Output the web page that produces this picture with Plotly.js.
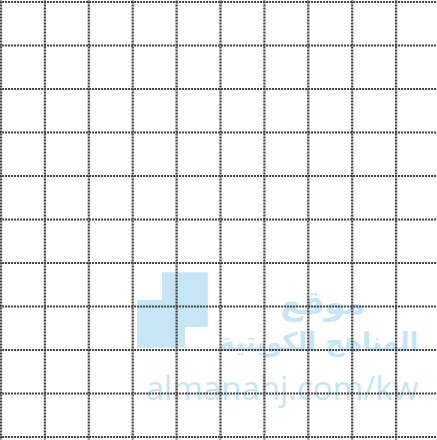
<!DOCTYPE html>
<html>
<head>
<meta charset="utf-8">
<script src="https://cdn.plot.ly/plotly-3.0.1.min.js"></script>
<style>html,body{margin:0;padding:0;background:#fff;}#chart{width:437px;height:440px;}</style>
</head>
<body>
<div id="chart"></div>
<script>
// grid line positions (cell units)
var verticalLines = [0, 1, 2, 3, 4, 5, 6, 7, 8, 9];
var horizontalLines = [0, 1, 2, 3, 4, 5, 6, 7, 8, 9, 10];
// watermark texts
var watermarkTexts = ["موقع", "المناهج الكويتية", "almanahj.com/kw"];
var watermarkX = [7.33, 7.24, 6.40];
var watermarkY = [3.02, 2.13, 1.03];

var X_RANGE = [-0.0228, 9.932];
var Y_RANGE = [-0.069, 10.046];

var traces = [];
var blue = '#c6e6f6';
var sizes = [33, 26, 33];
var weights = ['bold', 'bold', 'normal'];
for (var i = 0; i < watermarkTexts.length; i++) {
  traces.push({
    type: 'scatter', mode: 'text',
    x: [watermarkX[i]], y: [watermarkY[i]],
    text: [watermarkTexts[i]],
    textposition: 'middle center',
    textfont: {family: i < 2 ? 'DejaVu Sans' : 'Open Sans, Liberation Sans', size: sizes[i], color: blue, weight: weights[i]},
    hoverinfo: 'skip', showlegend: false
  });
}
var vx = [], vy = [];
verticalLines.forEach(function (k) { vx.push(k, k, null); vy.push(-1, 11, null); });
var hx = [], hy = [];
horizontalLines.forEach(function (k) { hx.push(-1, 11, null); hy.push(k, k, null); });
var lineStyle = {color: '#404040', width: 2.2, dash: '2px,1px'};
traces.push({type: 'scatter', mode: 'lines', x: vx, y: vy, line: lineStyle, hoverinfo: 'skip', showlegend: false, connectgaps: false});
traces.push({type: 'scatter', mode: 'lines', x: hx, y: hy, line: lineStyle, hoverinfo: 'skip', showlegend: false, connectgaps: false});

var layout = {
  width: 437, height: 440,
  margin: {l: 0, r: 0, t: 0, b: 0, pad: 0},
  paper_bgcolor: '#ffffff', plot_bgcolor: '#ffffff',
  xaxis: {range: X_RANGE, showgrid: false, zeroline: false, showticklabels: false, ticks: '', fixedrange: true},
  yaxis: {range: Y_RANGE, showgrid: false, zeroline: false, showticklabels: false, ticks: '', fixedrange: true},
  shapes: [
    {type: 'rect', xref: 'x', yref: 'y', x0: 3.67, x1: 4.71, y0: 2.53, y1: 3.79, fillcolor: blue, line: {width: 0}, layer: 'below'},
    {type: 'rect', xref: 'x', yref: 'y', x0: 3.10, x1: 4.19, y0: 2.05, y1: 3.15, fillcolor: blue, line: {width: 0}, layer: 'below'}
  ],
  showlegend: false
};
Plotly.newPlot('chart', traces, layout, {staticPlot: true, displayModeBar: false});
</script>
</body>
</html>
